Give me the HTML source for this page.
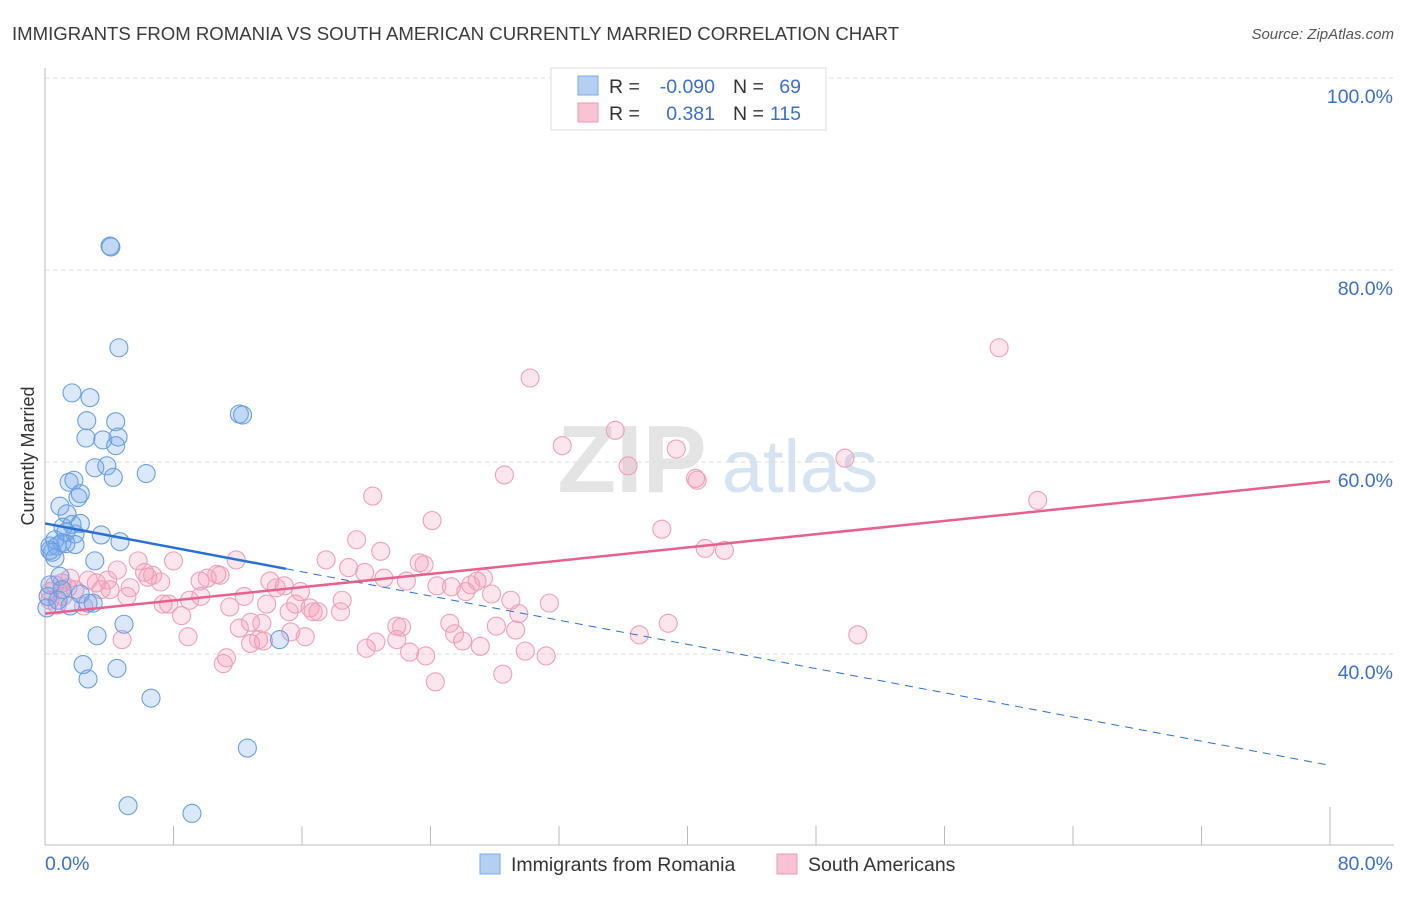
<!DOCTYPE html>
<html><head><meta charset="utf-8">
<style>
body{margin:0;background:#fff;font-family:"Liberation Sans",sans-serif;}
svg text{font-family:"Liberation Sans",sans-serif;}
</style></head>
<body>
<svg id="chart" width="1406" height="892" viewBox="0 0 1406 892" xmlns="http://www.w3.org/2000/svg">
<text x="12" y="40" font-size="18.6" fill="#3a3a3a">IMMIGRANTS FROM ROMANIA VS SOUTH AMERICAN CURRENTLY MARRIED CORRELATION CHART</text>
<text x="1394" y="39" font-size="15" fill="#555" text-anchor="end" font-style="italic">Source: ZipAtlas.com</text>
<g>
<text x="632" y="492" font-size="96" fill="#e4e4e4" text-anchor="middle" font-family="Liberation Serif" font-weight="bold">ZIP</text>
<text x="800" y="492" font-size="74" fill="#d5e3f3" text-anchor="middle">atlas</text>
</g>
<g id="grid"></g>
<g id="axes"></g>
<g id="pts"></g>
<g id="trends"></g>
<text transform="translate(34,456) rotate(-90)" font-size="18" fill="#333" text-anchor="middle">Currently Married</text>
<g>
<rect x="551" y="68" width="275" height="62" fill="#fff" stroke="#ddd"/>
<rect x="578" y="76" width="20" height="19" fill="#b5cff3" stroke="#7aa8e8"/>
<rect x="578" y="103" width="20" height="19" fill="#f8c3d3" stroke="#ee9ab4"/>
<text x="609" y="93" font-size="19.5" fill="#333">R =</text>
<text x="715" y="93" font-size="19.5" fill="#3a6fd0" text-anchor="end">-0.090</text>
<text x="733" y="93" font-size="19.5" fill="#333">N =</text>
<text x="801" y="93" font-size="19.5" fill="#3a6fd0" text-anchor="end">69</text>
<text x="609" y="120" font-size="19.5" fill="#333">R =</text>
<text x="715" y="120" font-size="19.5" fill="#3a6fd0" text-anchor="end">0.381</text>
<text x="733" y="120" font-size="19.5" fill="#333">N =</text>
<text x="801" y="120" font-size="19.5" fill="#3a6fd0" text-anchor="end">115</text>
</g>
<g>
<rect x="480" y="854" width="20" height="20" fill="#b5cff3" stroke="#7aa8e8"/>
<text x="511" y="871" font-size="19.5" fill="#333">Immigrants from Romania</text>
<rect x="777" y="854" width="20" height="20" fill="#f8c3d3" stroke="#ee9ab4"/>
<text x="808" y="871" font-size="19.5" fill="#333">South Americans</text>
</g>
</svg>
<script>
const blueX=[4.05,4.1,4.6,1.68,2.8,2.6,4.4,2.55,3.6,4.55,4.4,3.1,3.85,6.3,4.25,1.5,1.8,2.2,2.05,0.93,1.37,1.68,1.12,2.2,1.3,1.87,3.5,0.62,1.06,0.31,0.75,4.67,1.3,1.87,0.44,3.1,12.1,12.3,0.93,0.31,1.06,0.19,2.2,2.68,1.56,3.0,3.24,14.6,4.92,2.37,4.48,2.68,6.6,12.6,5.17,9.15,0.31,0.62,0.12,0.81];
const blueY=[82.5,82.4,71.9,67.2,66.7,64.3,64.2,62.5,62.3,62.6,61.7,59.4,59.6,58.8,58.4,57.9,58.1,56.7,56.3,55.4,54.6,53.5,53.2,53.6,52.7,52.5,52.4,51.9,51.6,51.25,51.25,51.7,51.5,51.4,50.6,49.7,65.0,64.9,48.1,47.2,46.7,46.0,46.25,45.3,45.0,45.3,41.9,41.5,43.1,38.9,38.5,37.4,35.4,30.2,24.2,23.4,50.8,50.0,44.8,45.6];
const pinkX=[59.4,30.2,35.5,32.2,39.3,36.3,28.6,40.5,40.6,49.8,61.8,20.4,24.1,38.4,19.4,20.9,41.1,42.3,17.5,23.3,23.6,18.9,19.9,21.1,22.5,27.3,26.9,26.5,25.3,24.4,26.2,27.8,29.0,31.4,29.5,18.5,18.4,16.5,17.0,15.6,15.2,15.9,14.4,14.0,14.9,12.4,13.8,11.5,12.8,13.5,12.1,13.6,15.3,16.2,16.7,10.9,10.7,9.65,9.7,9.0,8.0,10.1,11.9,7.7,8.5,8.9,11.3,11.1,12.8,13.3,20.0,20.6,21.9,21.9,22.2,22.7,23.7,24.3,25.2,25.5,26.0,27.1,28.1,29.3,28.5,29.9,31.2,37.0,38.8,50.6,5.8,6.2,6.4,7.2,7.35,5.1,4.5,3.9,3.2,3.5,2.4,4.8,2.7,1.56,1.06,0.62,0.31,1.12,1.43,0.31,0.75,1.87,5.3,6.7,4.05];
const pinkY=[71.9,68.75,63.3,61.7,61.35,59.6,58.65,58.3,58.1,60.4,56.0,56.45,53.9,53.0,51.9,50.7,51.0,50.8,49.8,49.5,49.3,49.0,48.5,47.9,47.6,47.9,47.6,47.2,47.0,47.1,46.5,46.25,45.6,45.3,44.2,45.6,44.4,44.8,44.4,45.2,44.4,46.5,46.9,47.6,47.1,46.0,45.2,44.9,43.3,43.2,42.7,41.35,42.3,41.8,44.4,48.2,48.3,47.6,46.0,45.6,49.7,47.9,49.8,45.2,44.0,41.8,39.6,39.0,41.1,41.5,40.6,41.25,41.5,42.9,42.8,40.2,39.8,37.1,43.2,42.1,41.35,40.8,42.9,42.5,37.9,40.3,39.8,42.0,43.2,42.0,49.7,48.5,48.0,47.5,45.2,46.0,48.75,47.7,47.4,46.7,45.0,41.5,47.7,47.9,47.4,47.2,46.5,46.0,46.9,45.6,45.1,46.7,46.9,48.2,46.7];
const blueTrend=[53.6,28.4];   // y at x=0 and x=80
const blueSolidEnd=15;
const pinkTrend=[44.2,58.0];
const yTicks=[100,80,60,40];
const yTickLabels=["100.0%","80.0%","60.0%","40.0%"];
const xTicks=[8,16,24,32,40,48,56,64,72,80];

const NS="http://www.w3.org/2000/svg";
const sx=v=>45+v*(1285/80);
const sy=v=>78+(100-v)*9.6;
function mk(tag,attrs,parent){const e=document.createElementNS(NS,tag);for(const k in attrs)e.setAttribute(k,attrs[k]);parent.appendChild(e);return e;}
const grid=document.getElementById('grid'),axes=document.getElementById('axes'),pts=document.getElementById('pts'),tr=document.getElementById('trends');
yTicks.forEach((t,i)=>{
  const l=mk('line',{x1:45,x2:1394,y1:sy(t),y2:sy(t),stroke:'#ddd','stroke-dasharray':'4,4'},grid);
  
  
  const tx=mk('text',{x:1393,y:sy(t)+25,'font-size':19.5,fill:'#3a6fd0','text-anchor':'end'},axes);
  tx.textContent=yTickLabels[i];
  
  
});
const ax=mk('line',{x1:45,x2:1394,y1:845,y2:845,stroke:'#bbb'},axes);


const ay=mk('line',{x1:45,x2:45,y1:68,y2:845,stroke:'#bbb'},axes);


xTicks.forEach(v=>{
  const t=mk('line',{x1:sx(v),x2:sx(v),y1:v===80?807:826,y2:845,stroke:'#bbb'},axes);
  
  
});
const xl0=mk('text',{x:45,y:870,'font-size':19.5,fill:'#3a6fd0'},axes);xl0.textContent='0.0%';


const xl1=mk('text',{x:1393,y:870,'font-size':19.5,fill:'#3a6fd0','text-anchor':'end'},axes);xl1.textContent='80.0%';



pinkX.forEach((x,i)=>{
  const c=mk('circle',{cx:sx(x),cy:sy(pinkY[i]),r:9,fill:'rgba(244,150,180,0.25)',stroke:'#ef9fba','stroke-width':1.1},pts);
  
  
});
blueX.forEach((x,i)=>{
  const c=mk('circle',{cx:sx(x),cy:sy(blueY[i]),r:9,fill:'rgba(110,165,235,0.25)',stroke:'#6a9ee0','stroke-width':1.1},pts);
  
  
});
const by=x=>blueTrend[0]+(blueTrend[1]-blueTrend[0])*x/80;
const b1=mk('line',{x1:sx(0),y1:sy(by(0)),x2:sx(blueSolidEnd),y2:sy(by(blueSolidEnd)),stroke:'#2a6fd6','stroke-width':2.5},tr);


const b2=mk('line',{x1:sx(blueSolidEnd),y1:sy(by(blueSolidEnd)),x2:sx(80),y2:sy(by(80)),stroke:'#2a6fd6','stroke-width':1,'stroke-dasharray':'8,6'},tr);


const p1=mk('line',{x1:sx(0),y1:sy(pinkTrend[0]),x2:sx(80),y2:sy(pinkTrend[1]),stroke:'#e8608c','stroke-width':2.5},tr);


</script>
</body></html>
